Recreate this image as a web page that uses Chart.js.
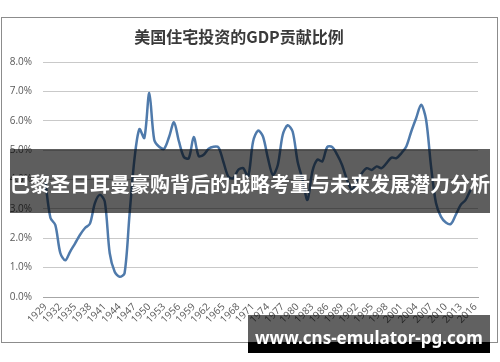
<!DOCTYPE html>
<html>
<head>
<meta charset="utf-8">
<script src="https://cdn.jsdelivr.net/npm/chart.js@4.4.0/dist/chart.umd.min.js"></script>
<style>
  body { margin: 0; background: #fff; }
  #wrap { position: relative; width: 500px; height: 362px; overflow: hidden; }
  #frame {
    position: absolute; left: 1px; top: 17px; width: 497px; height: 326px;
    box-sizing: border-box; border: 1px solid #8c8c8c;
  }
  #banner {
    position: absolute; left: 10px; top: 149px; width: 480px; height: 64px;
    background: rgba(0, 0, 0, 0.63); color: #fff;
    font: bold 20px "Noto Sans CJK SC", sans-serif;
    line-height: 70px; text-align: center; white-space: nowrap;
  }
  #markBg { position: absolute; left: 248px; top: 315px; width: 242px; height: 27px; background: rgba(0, 0, 0, 0.62); }
  #markBlack { position: absolute; left: 248px; top: 342px; width: 242px; height: 11px; background: #000; }
  #mark {
    position: absolute; left: 248px; top: 326px; width: 242px; line-height: 20px;
    color: #fff; font: bold 17px "Noto Sans", sans-serif; text-align: center; white-space: nowrap;
  }
</style>
</head>
<body>
<div id="wrap">
  <canvas id="chart" width="500" height="362"></canvas>
  <div id="frame"></div>
  <div id="banner">巴黎圣日耳曼豪购背后的战略考量与未来发展潜力分析</div>
  <div id="markBg"></div>
  <div id="markBlack"></div>
  <div id="mark">www.cns-emulator-pg.com</div>
</div>
<script>
// 年份（类别）
const years = [
  "1929", "1930", "1931", "1932", "1933", "1934", "1935", "1936", "1937", "1938",
  "1939", "1940", "1941", "1942", "1943", "1944", "1945", "1946", "1947", "1948",
  "1949", "1950", "1951", "1952", "1953", "1954", "1955", "1956", "1957", "1958",
  "1959", "1960", "1961", "1962", "1963", "1964", "1965", "1966", "1967", "1968",
  "1969", "1970", "1971", "1972", "1973", "1974", "1975", "1976", "1977", "1978",
  "1979", "1980", "1981", "1982", "1983", "1984", "1985", "1986", "1987", "1988",
  "1989", "1990", "1991", "1992", "1993", "1994", "1995", "1996", "1997", "1998",
  "1999", "2000", "2001", "2002", "2003", "2004", "2005", "2006", "2007", "2008",
  "2009", "2010", "2011", "2012", "2013", "2014", "2015", "2016"
];

// 住宅投资占GDP比例（%）
const shareOfGdp = [
  3.9, 2.7, 2.45, 1.5, 1.25, 1.55, 1.83, 2.12, 2.35, 2.5,
  3.2, 3.48, 3.25, 1.49, 0.86, 0.69, 0.81, 2.8, 4.7, 5.72,
  5.42, 6.95, 5.36, 5.12, 5.05, 5.45, 5.95, 5.3, 4.77, 4.73,
  5.45, 4.8, 4.85, 5.05, 5.12, 5.1, 4.6, 4.1, 4.05, 4.33,
  4.39, 4.1, 5.3, 5.67, 5.47, 4.73, 4.16, 4.5, 5.53, 5.85,
  5.64, 4.62, 4.0, 3.31, 4.28, 4.68, 4.62, 5.11, 5.11, 4.85,
  4.5, 4.0, 3.65, 3.95, 4.22, 4.39, 4.33, 4.45, 4.39, 4.56,
  4.75, 4.73, 4.9, 5.13, 5.64, 6.1, 6.55, 6.04, 4.45, 3.2,
  2.74, 2.54, 2.49, 2.8, 3.14, 3.31, 3.65, null
];

// y轴刻度
const yTicks = [0, 1, 2, 3, 4, 5, 6, 7, 8];

const titleText = "美国住宅投资的GDP贡献比例";
const labelFont = { family: "'Open Sans', sans-serif", size: 10 };

const ctx = document.getElementById("chart").getContext("2d");
const chart = new Chart(ctx, {
  type: "line",
  data: {
    labels: years,
    datasets: [
      {
        label: titleText,
        data: shareOfGdp,
        borderColor: "#4f7aab",
        borderWidth: 2.5,
        pointRadius: 0,
        tension: 0.3,
        fill: false,
      },
    ],
  },
  options: {
    responsive: false,
    animation: false,
    layout: { padding: { left: 0, right: 22, top: 0, bottom: 0 } },
    plugins: {
      legend: { display: false },
      tooltip: { enabled: false },
      title: {
        display: true,
        text: titleText,
        color: "#3a3a3a",
        font: { family: "'Noto Sans CJK SC', sans-serif", size: 16, weight: "bold" },
        padding: { top: 27, bottom: 16 },
      },
    },
    scales: {
      x: {
        offset: true,
        grid: { display: false, drawTicks: false },
        border: { display: true, color: "#a6a6a6" },
        ticks: {
          autoSkip: false,
          minRotation: 45,
          maxRotation: 45,
          padding: 4,
          color: "#595959",
          font: labelFont,
          callback: function (value, index) {
            return index % 3 === 0 ? years[index] : "";
          },
        },
        afterFit: function (scale) {
          scale.height = 65;
        },
      },
      y: {
        min: yTicks[0],
        max: yTicks[yTicks.length - 1],
        afterBuildTicks: function (scale) {
          scale.ticks = yTicks.map((v) => ({ value: v }));
        },
        grid: { color: "#c9c9c9", drawTicks: false },
        border: { display: false },
        ticks: {
          padding: 11,
          color: "#595959",
          font: labelFont,
          callback: (v) => v.toFixed(1) + "%",
        },
        afterFit: function (scale) {
          scale.width = 43;
        },
      },
    },
  },
});
</script>
</body>
</html>
